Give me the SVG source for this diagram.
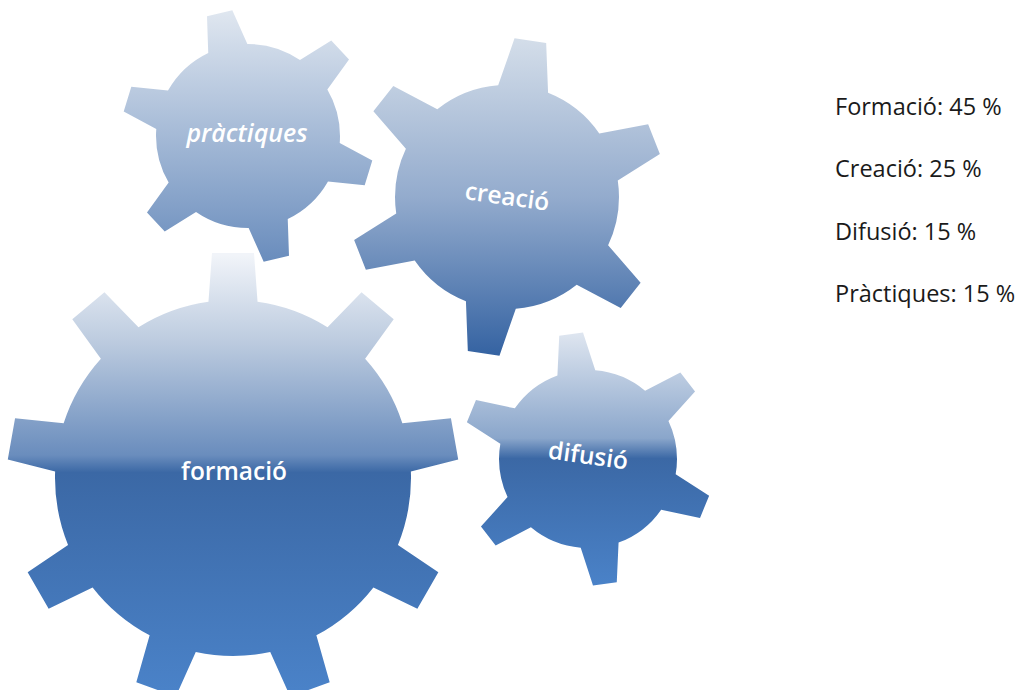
<svg xmlns="http://www.w3.org/2000/svg" xmlns:xlink="http://www.w3.org/1999/xlink" width="1020" height="690" viewBox="0 0 1020 690">
<style>
.lbl{font-family:"Open Sans","Noto Sans","DejaVu Sans",sans-serif;font-weight:600;font-size:24.5px;fill:#ffffff;text-anchor:middle}
.it{font-style:italic;font-size:25px}
.leg{font-family:"Open Sans","Noto Sans","DejaVu Sans",sans-serif;font-size:23.5px;fill:#1a1a1a}
</style>
<defs>
<linearGradient id="gBig" gradientUnits="userSpaceOnUse" x1="0" y1="255" x2="0" y2="690">
<stop offset="0" stop-color="#f1f4f9"/>
<stop offset="0.2" stop-color="#bccbdf"/>
<stop offset="0.46" stop-color="#6a8dbd"/>
<stop offset="0.5" stop-color="#3b68a5"/>
<stop offset="1" stop-color="#4a82c8"/>
</linearGradient>
<linearGradient id="gDif" gradientUnits="userSpaceOnUse" x1="0" y1="332" x2="0" y2="585">
<stop offset="0" stop-color="#dfe6f0"/>
<stop offset="0.42" stop-color="#8aa6cb"/>
<stop offset="0.5" stop-color="#3b68a5"/>
<stop offset="1" stop-color="#4a82c8"/>
</linearGradient>
<linearGradient id="gCre" gradientUnits="userSpaceOnUse" x1="0" y1="40" x2="0" y2="355">
<stop offset="0" stop-color="#d3dde9"/>
<stop offset="0.5" stop-color="#93abcd"/>
<stop offset="1" stop-color="#3563a2"/>
</linearGradient>
<linearGradient id="gPra" gradientUnits="userSpaceOnUse" x1="0" y1="10" x2="0" y2="260">
<stop offset="0" stop-color="#e0e7f0"/>
<stop offset="1" stop-color="#6a8dbd"/>
</linearGradient>
<clipPath id="cBig">
<circle cx="233" cy="478" r="178"/>
<polygon points="-25,-170 -21,-225 21,-225 25,-170" transform="translate(233 478) rotate(0)"/>
<polygon points="-25,-170 -21,-225 21,-225 25,-170" transform="translate(233 478) rotate(40)"/>
<polygon points="-25,-170 -21,-225 21,-225 25,-170" transform="translate(233 478) rotate(80)"/>
<polygon points="-25,-170 -21,-225 21,-225 25,-170" transform="translate(233 478) rotate(120)"/>
<polygon points="-25,-170 -21,-225 21,-225 25,-170" transform="translate(233 478) rotate(160)"/>
<polygon points="-25,-170 -21,-225 21,-225 25,-170" transform="translate(233 478) rotate(200)"/>
<polygon points="-25,-170 -21,-225 21,-225 25,-170" transform="translate(233 478) rotate(240)"/>
<polygon points="-25,-170 -21,-225 21,-225 25,-170" transform="translate(233 478) rotate(280)"/>
<polygon points="-25,-170 -21,-225 21,-225 25,-170" transform="translate(233 478) rotate(320)"/>
</clipPath>
<clipPath id="cPra">
<circle cx="248" cy="136" r="92"/>
<polygon points="-21,-85 -13,-126 13,-126 21,-85" transform="translate(248 136) rotate(-13)"/>
<polygon points="-21,-85 -13,-126 13,-126 21,-85" transform="translate(248 136) rotate(47)"/>
<polygon points="-21,-85 -13,-126 13,-126 21,-85" transform="translate(248 136) rotate(107)"/>
<polygon points="-21,-85 -13,-126 13,-126 21,-85" transform="translate(248 136) rotate(167)"/>
<polygon points="-21,-85 -13,-126 13,-126 21,-85" transform="translate(248 136) rotate(227)"/>
<polygon points="-21,-85 -13,-126 13,-126 21,-85" transform="translate(248 136) rotate(287)"/>
</clipPath>
<clipPath id="cCre">
<circle cx="507" cy="197" r="112"/>
<polygon points="-26,-105 -16,-158 16,-158 26,-105" transform="translate(507 197) rotate(8.5)"/>
<polygon points="-26,-105 -16,-158 16,-158 26,-105" transform="translate(507 197) rotate(68.5)"/>
<polygon points="-26,-105 -16,-158 16,-158 26,-105" transform="translate(507 197) rotate(128.5)"/>
<polygon points="-26,-105 -16,-158 16,-158 26,-105" transform="translate(507 197) rotate(188.5)"/>
<polygon points="-26,-105 -16,-158 16,-158 26,-105" transform="translate(507 197) rotate(248.5)"/>
<polygon points="-26,-105 -16,-158 16,-158 26,-105" transform="translate(507 197) rotate(308.5)"/>
</clipPath>
<clipPath id="cDif">
<circle cx="588" cy="459" r="89"/>
<polygon points="-20,-82 -12,-126 12,-126 20,-82" transform="translate(588 459) rotate(-7.7)"/>
<polygon points="-20,-82 -12,-126 12,-126 20,-82" transform="translate(588 459) rotate(52.3)"/>
<polygon points="-20,-82 -12,-126 12,-126 20,-82" transform="translate(588 459) rotate(112.3)"/>
<polygon points="-20,-82 -12,-126 12,-126 20,-82" transform="translate(588 459) rotate(172.3)"/>
<polygon points="-20,-82 -12,-126 12,-126 20,-82" transform="translate(588 459) rotate(232.3)"/>
<polygon points="-20,-82 -12,-126 12,-126 20,-82" transform="translate(588 459) rotate(292.3)"/>
</clipPath>
</defs>
<rect width="1020" height="690" fill="#ffffff"/>
<g id="connectors"></g>
<g id="node-practiques">
<rect x="100" y="0" width="300" height="280" fill="url(#gPra)" clip-path="url(#cPra)"/>
<text class="lbl it" x="247" y="142">pràctiques</text>
</g>
<g id="node-creacio">
<rect x="330" y="30" width="350" height="340" fill="url(#gCre)" clip-path="url(#cCre)"/>
<text class="lbl" transform="translate(507 198) rotate(8)" x="0" y="7">creació</text>
</g>
<g id="node-formacio">
<rect x="0" y="245" width="470" height="445" fill="url(#gBig)" clip-path="url(#cBig)"/>
<text class="lbl" x="234" y="480">formació</text>
</g>
<g id="node-difusio">
<rect x="455" y="325" width="270" height="270" fill="url(#gDif)" clip-path="url(#cDif)"/>
<text class="lbl" transform="translate(588 457) rotate(8)" x="0" y="7">difusió</text>
</g>
<g id="legend">
<text class="leg" x="835" y="115">Formació: 45 %</text>
<text class="leg" x="835" y="177">Creació: 25 %</text>
<text class="leg" x="835" y="240">Difusió: 15 %</text>
<text class="leg" x="835" y="302">Pràctiques: 15 %</text>
</g>
</svg>
